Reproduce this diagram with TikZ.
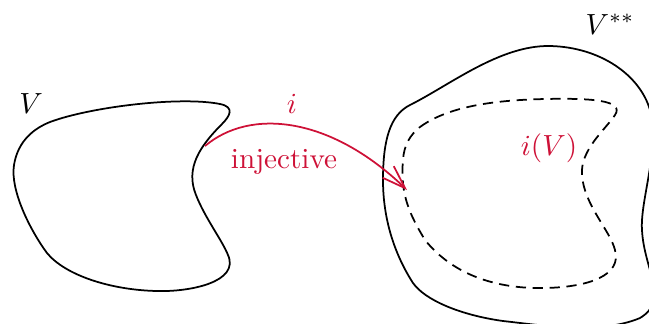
\documentclass[tikz,border=0pt]{standalone}
\usetikzlibrary{arrows.meta}
\definecolor{mapred}{RGB}{206,17,55}
\begin{document}
\begin{tikzpicture}[x=0.343pt,y=-0.343pt,
  outline/.style={line width=0.6pt},
  dashedline/.style={line width=0.6pt, dash pattern=on 3.5pt off 2.3pt},
  lbl/.style={inner sep=0pt},
  maparrow/.style={mapred, line width=0.6pt, -{Straight Barb[length=8pt,width=5.5pt]}}]
\useasboundingbox (0,0) rectangle (649,323);
\clip (0,0) rectangle (649,323);
% V
\draw[outline] (50,122) .. controls (90,107) and (180,96) .. (220,104)
  .. controls (235,107) and (230,116) .. (222,124)
  .. controls (200,146) and (185,168) .. (196,195)
  .. controls (205,218) and (222,240) .. (228,255)
  .. controls (240,282) and (190,292) .. (157,291)
  .. controls (110,290) and (65,275) .. (47,253)
  .. controls (30,230) and (10,190) .. (14,165)
  .. controls (18,140) and (35,128) .. (50,122) -- cycle;
% V**
\draw[outline] (410,105) .. controls (450,85) and (500,45) .. (550,46)
  .. controls (600,47) and (640,75) .. (650,110)
  .. controls (660,150) and (640,200) .. (642,230)
  .. controls (644,270) and (670,300) .. (640,318)
  .. controls (600,335) and (540,325) .. (503,321)
  .. controls (460,315) and (425,300) .. (413,283)
  .. controls (395,255) and (383,220) .. (383,180)
  .. controls (383,140) and (390,115) .. (410,105) -- cycle;
% i(V)
\draw[dashedline] (420,127) .. controls (450,105) and (500,100) .. (545,99)
  .. controls (590,98) and (625,100) .. (615,115)
  .. controls (605,130) and (580,150) .. (582,175)
  .. controls (584,205) and (610,230) .. (615,250)
  .. controls (622,275) and (590,287) .. (545,288)
  .. controls (500,289) and (455,277) .. (425,240)
  .. controls (410,215) and (400,195) .. (403,160)
  .. controls (404,145) and (410,135) .. (420,127) -- cycle;
\node[lbl] (V) at (31,104) {$V$};
\node[lbl] (Vss) at (610,24) {$V^{**}$};
\node[lbl, text=mapred] (iV) at (549,148) {$i(V)$};
\coordinate (s) at (205,146);
\coordinate (t) at (407,190);
\draw[maparrow] (s) .. controls (250,108) and (330,116) .. (t);
\node[lbl, text=mapred] (ilab) at (292,104) {$i$};
\node[lbl, text=mapred] (inj) at (284,162) {injective};
\end{tikzpicture}
\end{document}
